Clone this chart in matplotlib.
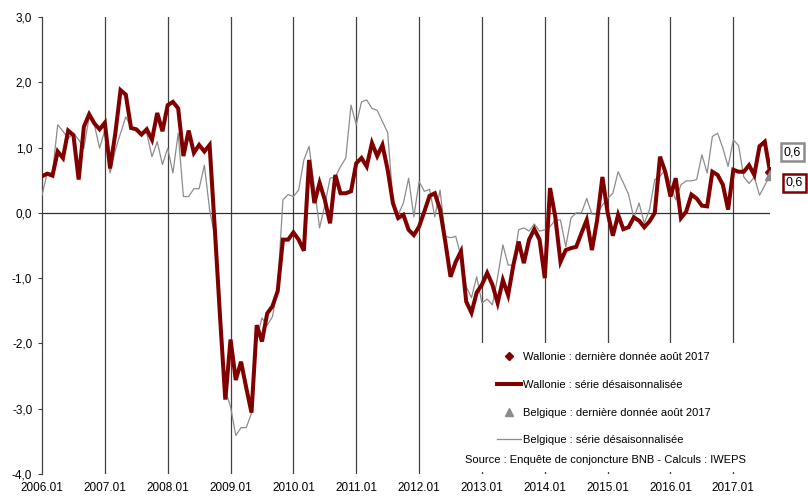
import matplotlib
matplotlib.use('Agg')
import matplotlib.pyplot as plt
from matplotlib.lines import Line2D
from matplotlib.patches import Rectangle
from matplotlib.ticker import FuncFormatter

plt.rcParams['font.family'] = ['Liberation Sans', 'DejaVu Sans']

# monthly series, 2006.01 -> 2017.08
wallonie = [0.56, 0.60, 0.57, 0.94, 0.84, 1.26, 1.19, 0.51, 1.32, 1.51, 1.37, 1.28,
            1.38, 0.68, 1.22, 1.88, 1.81, 1.30, 1.28, 1.20, 1.28, 1.12, 1.53, 1.25,
            1.65, 1.70, 1.60, 0.87, 1.26, 0.92, 1.04, 0.94, 1.04, -0.25, -1.60, -2.86,
            -1.94, -2.56, -2.28, -2.68, -3.06, -1.72, -1.97, -1.54, -1.43, -1.20, -0.41, -0.41,
            -0.30, -0.41, -0.58, 0.81, 0.15, 0.46, 0.20, -0.16, 0.58, 0.30, 0.30, 0.33,
            0.76, 0.84, 0.71, 1.07, 0.87, 1.04, 0.66, 0.15, -0.08, -0.03, -0.26, -0.34,
            -0.21, 0.02, 0.26, 0.30, 0.05, -0.44, -0.98, -0.75, -0.59, -1.36, -1.53, -1.22,
            -1.10, -0.92, -1.10, -1.38, -1.03, -1.26, -0.80, -0.44, -0.77, -0.41, -0.25, -0.41,
            -1.00, 0.38, -0.06, -0.75, -0.57, -0.54, -0.52, -0.31, -0.11, -0.57, -0.11, 0.55,
            0.00, -0.35, -0.03, -0.25, -0.22, -0.07, -0.12, -0.22, -0.13, 0.00, 0.86, 0.63,
            0.25, 0.53, -0.08, 0.02, 0.28, 0.22, 0.11, 0.10, 0.63, 0.58, 0.43, 0.05,
            0.66, 0.63, 0.63, 0.73, 0.58, 1.02, 1.09, 0.63]

belgique = [0.27, 0.61, 0.61, 1.35, 1.25, 1.14, 1.22, 1.12, 0.99, 1.47, 1.35, 0.99,
            1.27, 0.61, 0.96, 1.22, 1.47, 1.32, 1.25, 1.22, 1.22, 0.86, 1.09, 0.74,
            0.99, 0.61, 1.22, 0.25, 0.25, 0.37, 0.37, 0.73, 0.05, -0.36, -1.53, -2.71,
            -2.97, -3.41, -3.29, -3.29, -3.07, -1.92, -1.61, -1.72, -1.59, -1.13, 0.20, 0.28,
            0.25, 0.35, 0.81, 1.02, 0.40, -0.23, 0.12, 0.53, 0.55, 0.71, 0.84, 1.65,
            1.35, 1.70, 1.73, 1.60, 1.57, 1.40, 1.23, 0.20, -0.03, 0.15, 0.53, -0.06,
            0.48, 0.33, 0.36, -0.06, 0.35, -0.36, -0.38, -0.36, -0.67, -1.13, -1.30, -0.98,
            -1.38, -1.32, -1.41, -0.98, -0.49, -0.80, -0.80, -0.26, -0.23, -0.28, -0.17, -0.28,
            -0.26, -0.21, -0.11, -0.11, -0.52, -0.08, 0.00, 0.00, 0.22, -0.02, -0.02, 0.12,
            0.22, 0.30, 0.63, 0.46, 0.28, -0.08, 0.15, -0.16, 0.05, 0.51, 0.56, 0.66,
            0.43, 0.20, 0.43, 0.49, 0.49, 0.51, 0.89, 0.61, 1.17, 1.22, 0.99, 0.71,
            1.12, 1.03, 0.55, 0.45, 0.55, 0.27, 0.42, 0.58]

years = list(range(2006, 2018))
year_labels = [str(y) + '.01' for y in years]
legend_labels = ['Wallonie : dernière donnée août 2017',
                 'Wallonie : série désaisonnalisée',
                 'Belgique : dernière donnée août 2017',
                 'Belgique : série désaisonnalisée']
source = 'Source : Enquête de conjoncture BNB - Calculs : IWEPS'

red = '#800000'
grey = '#8c8c8c'

x = list(range(len(wallonie)))
last = x[-1]

fig = plt.figure(figsize=(8.08, 4.97), dpi=100)
ax = fig.add_axes([42/808, 23/497, 728/808, 457/497])
ax.set_xlim(0, last)
ax.set_ylim(-4, 3)

year_pos = [12 * i for i in range(len(years))]
for p in year_pos[1:]:
    ax.axvline(p, color='#404040', lw=0.9, zorder=1)
ax.axhline(0, color='#303030', lw=0.9, zorder=1)

ax.plot(x, belgique, color=grey, lw=0.9, zorder=3)
ax.plot(x, wallonie, color=red, lw=2.9, zorder=4, solid_joinstyle='miter')
ax.plot(last, wallonie[-1], marker='D', color=red, ms=5, zorder=5)
ax.plot(last, belgique[-1], marker='^', color=grey, ms=7, zorder=6)

fmt = lambda v: ('%.1f' % v).replace('.', ',')
ax.annotate(fmt(belgique[-1]), xy=(last, belgique[-1]), xytext=(16, 16.5),
            textcoords='offset points', ha='center', va='center', fontsize=9,
            annotation_clip=False,
            bbox=dict(boxstyle='square,pad=0.22', fc='white', ec=grey, lw=1.8))
ax.annotate(fmt(wallonie[-1]), xy=(last, wallonie[-1]), xytext=(17.5, -8),
            textcoords='offset points', ha='center', va='center', fontsize=9,
            annotation_clip=False,
            bbox=dict(boxstyle='square,pad=0.22', fc='white', ec=red, lw=1.8))

ax.set_xticks(year_pos)
ax.set_xticklabels(year_labels)
ax.set_yticks(range(-4, 4))
ax.yaxis.set_major_formatter(FuncFormatter(lambda v, pos: fmt(v)))
ax.tick_params(axis='x', length=0, pad=6, labelsize=8.5)
ax.tick_params(axis='y', length=3, pad=4, labelsize=8.5, color='#404040')
for s in ['top', 'right', 'bottom']:
    ax.spines[s].set_visible(False)
ax.spines['left'].set_color('#404040')
ax.spines['left'].set_linewidth(0.9)

# white box behind legend and source
ax.add_patch(Rectangle((478/808, 25/497), 330/808, 129/497, transform=fig.transFigure,
                       fc='white', ec='none', zorder=2.5, clip_on=False))

handles = [Line2D([], [], ls='none', marker='D', color=red, ms=4.5),
           Line2D([], [], color=red, lw=2.9),
           Line2D([], [], ls='none', marker='^', color=grey, ms=6),
           Line2D([], [], color=grey, lw=0.9)]
lg = ax.legend(handles, legend_labels, loc='upper left', bbox_to_anchor=(497/808, 1 - 352/497),
               bbox_transform=fig.transFigure, frameon=False, fontsize=8,
               handlelength=2.15, handletextpad=0.15, labelspacing=1.6,
               borderpad=0, borderaxespad=0)
lg.set_zorder(7)

fig.text(465/808, 1 - 460/497, source, fontsize=8, va='center', zorder=8)

fig.savefig('out.png', dpi=100)
